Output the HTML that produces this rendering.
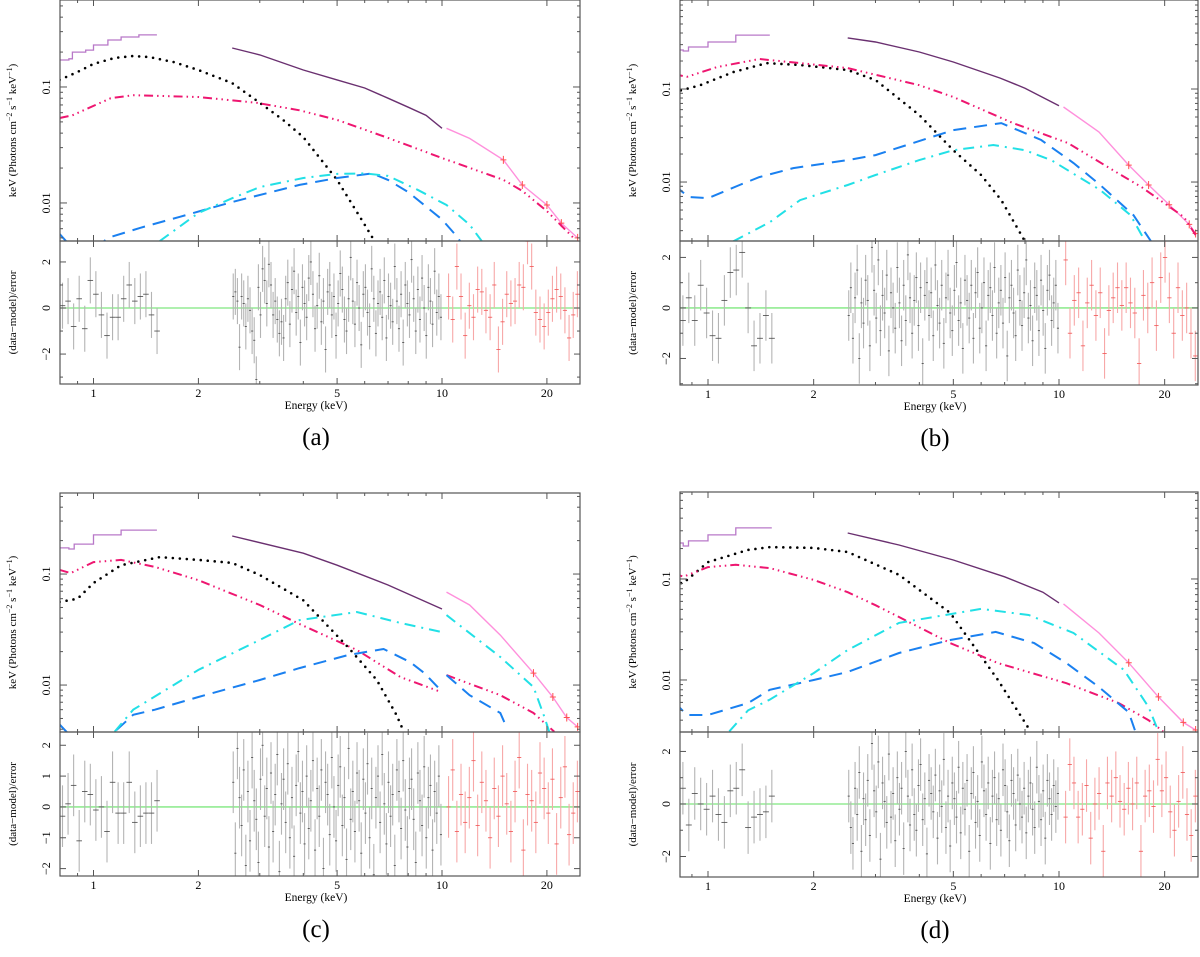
<!DOCTYPE html>
<html><head><meta charset="utf-8">
<style>
html,body{margin:0;padding:0;background:#fff;}
svg, svg text{font-family:"Liberation Serif","Times New Roman",serif;}
</style></head>
<body>
<svg id="fig" width="1200" height="952" viewBox="0 0 1200 952" xmlns="http://www.w3.org/2000/svg" font-family="Liberation Serif, serif"></svg>
<script>
// ===== data: panel (a) =====
const aPurpleSoft=[[0.8,0.171],[0.85,0.175],[0.87,0.2],[0.95,0.208],[1.0,0.23],[1.1,0.254],[1.2,0.27],[1.35,0.281],[1.52,0.281]];
const aPurpleMid=[[2.5,0.217],[3,0.189],[4,0.14],[5,0.115],[6,0.098],[7,0.08],[8,0.067],[9,0.057],[10,0.044]];
const aHard=[[10.3,0.044],[12,0.036],[15,0.0235],[17,0.0143],[20,0.0096],[22,0.0067],[24.5,0.005]];
const aBlack=[[0.8,0.115],[0.9,0.135],[1.0,0.158],[1.15,0.178],[1.3,0.185],[1.45,0.181],[1.7,0.164],[2,0.14],[2.5,0.108],[3,0.073],[3.5,0.052],[4,0.037],[5,0.0158],[6,0.0065],[6.4,0.0047]];
const aPink=[[0.8,0.054],[0.87,0.057],[1.12,0.08],[1.3,0.085],[2,0.082],[2.94,0.073],[3.9,0.063],[5,0.052],[7,0.0364],[10,0.0244],[15,0.0158],[17,0.0127],[20,0.0085],[24,0.0049]];
const aBlue=[[0.8,0.0054],[0.85,0.0044],[1.0,0.0039],[1.1,0.005],[1.36,0.0061],[1.77,0.0076],[2.5,0.0102],[3.9,0.0143],[5,0.0164],[6.3,0.018],[7,0.0158],[8,0.0124],[9,0.0093],[10,0.0072],[11,0.0052],[11.5,0.0043]];
const aCyan=[[1.55,0.0047],[2,0.0082],[2.5,0.011],[3,0.0137],[4,0.0164],[5,0.0178],[6,0.018],[7,0.0171],[8.5,0.013],[10.3,0.0096],[12,0.0065],[13,0.0047]];
const aResSoft=[0.1,0.3,-0.8,0.4,-0.9,1.2,0.6,-0.3,-1.2,-0.4,-0.4,0.4,1.0,0.3,0.5,0.6,-0.3,-1.0];
const aResMid=[0.5,0.7,0.3,-1.7,0.5,0.2,-0.8,0.4,-0.1,-1.0,-1.4,-3.1,0.9,-0.3,1.7,1.2,0.2,1.9,1.0,-0.3,0.3,-0.5,-1.1,-0.6,-1.3,0.4,1.1,-0.7,0.8,1.6,-0.2,0.5,-1.5,0.9,0.2,-0.4,1.3,2.0,0.6,-0.9,0.1,1.4,-0.6,0.3,-1.8,0.7,1.0,-0.3,0.5,-1.2,0.2,1.5,0.8,-0.5,-1.0,0.4,2.2,0.3,-0.7,1.1,0.0,-1.6,0.6,0.9,-0.2,-0.8,1.7,0.4,-1.1,0.2,0.7,-0.4,1.2,-1.3,0.5,0.1,-0.6,1.8,0.3,-0.9,0.6,-1.5,1.0,0.2,-0.3,2.1,0.4,-1.0,0.8,-0.5,1.3,0.0,-1.2,0.9,0.3,-0.7,1.6,-0.2,0.5,-0.4];
const aResHard=[0.5,-0.5,1.8,0.5,-1.2,0.1,-0.4,0.8,0.7,-0.1,-0.4,1.0,-1.8,-0.6,0.6,0.2,0.3,1.0,0.9,2.9,1.8,-0.2,-0.5,-0.8,-0.2,0.4,0.8,0.5,-0.1,-1.3,-0.3,0.6];
// ===== data: panel (b) =====
const bPurpleSoft=[[0.8,0.263],[0.85,0.256],[0.88,0.283],[1.0,0.32],[1.2,0.38],[1.5,0.44]];
const bPurpleMid=[[2.5,0.354],[3,0.32],[4,0.25],[5,0.195],[6.8,0.131],[8,0.102],[10,0.066]];
const bHard=[[10.3,0.064],[13,0.0345],[15.8,0.0152],[18,0.0093],[20.6,0.0057],[23.5,0.0035],[24.5,0.0028]];
const bBlack=[[0.8,0.093],[0.85,0.098],[0.95,0.11],[1.18,0.152],[1.47,0.19],[1.83,0.181],[2.5,0.16],[3,0.125],[4,0.0526],[5,0.022],[6,0.0119],[6.85,0.0064],[8,0.0023]];
const bPink=[[0.8,0.145],[0.87,0.135],[1.06,0.172],[1.4,0.21],[1.83,0.19],[2.5,0.168],[4,0.11],[5,0.082],[7.4,0.043],[10.6,0.0263],[14.7,0.0125],[17.2,0.0088],[22.7,0.0042],[24.5,0.0027]];
const bBlue=[[0.8,0.0093],[0.88,0.0069],[1.0,0.0067],[1.23,0.0093],[1.4,0.0113],[1.75,0.0141],[2.5,0.0172],[3,0.0195],[5,0.0362],[6.85,0.043],[8.9,0.0283],[11,0.016],[13.1,0.0093],[16.3,0.0044],[18.3,0.0023]];
const bCyan=[[1.18,0.0023],[1.5,0.0037],[1.83,0.0064],[2.5,0.0093],[3,0.0119],[4,0.0172],[5,0.022],[6.5,0.025],[8,0.022],[9.5,0.0172],[13.1,0.0082],[16,0.0044],[17.6,0.0023]];
const bResSoft=[0.3,-0.5,0.4,-0.5,0.9,-0.2,-1.1,-1.2,0.3,1.4,1.5,2.2,0.0,-1.5,-1.2,-0.3,-1.2];
const bResMid=[-0.3,0.8,-1.2,0.4,1.5,-2.0,0.2,-0.6,1.1,0.3,-1.5,2.4,0.7,-0.4,1.9,-0.9,0.5,-0.2,1.3,-1.7,0.6,0.0,-0.8,1.6,0.2,-1.3,0.9,-0.5,2.1,0.4,-1.0,0.3,1.2,-0.7,0.8,-2.2,0.5,1.0,-0.3,0.6,-1.1,1.7,0.1,-0.6,0.9,-1.4,0.4,1.3,-0.2,-0.9,0.7,1.8,-0.5,0.2,-1.6,1.1,0.3,-0.4,0.9,-1.2,0.6,1.4,-0.8,0.0,1.0,-1.5,0.5,0.8,-0.3,1.6,-1.0,0.2,0.7,-0.6,1.2,-1.9,0.4,0.9,-0.2,-1.1,1.5,0.3,-0.7,0.6,1.9,-0.4,0.1,-1.3,0.8,0.5,-0.9,1.1,-0.1,-1.6,0.7,1.3,-0.5,0.2,0.9,-0.8];
const bResHard=[1.9,-1.0,0.3,0.6,-1.5,0.2,0.9,-0.3,0.6,-1.8,-0.1,0.4,0.8,0.1,0.8,0.2,-0.2,-2.2,0.5,0.0,1.0,-0.7,1.2,2.0,0.4,-1.0,0.8,-0.3,0.0,-1.0,-1.9];
// ===== data: panel (c) =====
const cPurpleSoft=[[0.8,0.172],[0.85,0.168],[0.88,0.186],[1.0,0.225],[1.2,0.249],[1.52,0.276]];
const cPurpleMid=[[2.5,0.22],[4,0.154],[5,0.12],[7,0.0796],[10,0.0484]];
const cHard=[[10.3,0.0688],[12,0.0526],[14.7,0.0282],[18.3,0.0128],[20.8,0.0078],[22.8,0.0051],[24.5,0.0042]];
const cBlack=[[0.8,0.056],[0.9,0.06],[1.0,0.083],[1.2,0.12],[1.55,0.142],[2,0.134],[2.5,0.126],[3,0.098],[4,0.058],[5.4,0.0216],[6.5,0.0111],[7.4,0.0054],[7.8,0.0037]];
const cPink1=[[0.8,0.109],[0.86,0.102],[1.0,0.128],[1.2,0.134],[1.5,0.116],[2,0.088],[3,0.0526],[3.9,0.0355],[5.7,0.0207],[7.6,0.0118],[9.9,0.0087]];
const cPink2=[[10.3,0.0123],[14.7,0.0081],[18.3,0.0056],[21,0.0038]];
const cBlue1=[[0.8,0.0044],[0.85,0.0036],[1.0,0.0033],[1.15,0.0038],[1.3,0.0054],[1.5,0.006],[2,0.0078],[3,0.0111],[3.9,0.0142],[5.4,0.0187],[6.8,0.0211],[8.1,0.0161],[8.9,0.0128],[9.9,0.009]];
const cBlue2=[[10.3,0.0123],[12,0.0081],[14.7,0.0056],[15.3,0.0042]];
const cCyan1=[[1.15,0.0038],[1.3,0.006],[2,0.0137],[3,0.0255],[3.9,0.0385],[5.7,0.0455],[7.6,0.0362],[10,0.03]];
const cCyan2=[[10.3,0.0427],[14.7,0.0179],[18.3,0.0096],[19.7,0.0051],[20.3,0.0038]];
const cResSoft=[-0.3,0.1,0.7,-1.1,0.5,0.4,-0.1,0.0,-0.8,0.8,-0.2,-0.2,0.8,-0.5,-0.3,-0.2,-0.2,0.2];
const cResMid=[0.8,-1.5,1.9,0.3,-0.6,1.2,-1.9,0.5,-1.1,1.6,0.2,-0.4,-1.8,0.9,2.0,-0.3,0.6,-1.3,1.1,-0.8,0.4,1.7,-2.1,0.1,0.9,-0.5,1.4,-1.0,0.3,-1.6,0.7,1.8,-0.2,0.5,-1.2,1.0,-0.7,0.2,1.5,-1.4,0.6,-0.3,1.2,-2.0,0.8,0.4,-0.9,1.6,0.0,-1.1,0.7,1.3,-0.6,0.3,-1.7,1.9,-0.4,0.5,-0.8,1.1,0.2,-1.5,0.9,-0.2,1.4,-1.0,0.6,-2.2,0.3,1.0,-0.5,1.7,0.1,-1.2,0.8,-0.3,0.4,-1.9,1.2,0.5,-0.7,1.5,-0.1,-1.3,0.6,0.9,-0.4,-1.8,1.1,0.2,-0.6,1.3,-1.0,0.3,0.7,-1.4,0.5,-0.2,1.0,-0.9];
const cResHard=[0.0,1.2,-0.8,0.4,-0.5,0.3,1.5,-0.6,0.8,0.2,-1.0,0.6,-0.3,1.0,0.1,-0.8,0.5,1.6,-1.4,0.4,0.2,-0.5,1.1,0.6,-0.2,0.9,-1.2,0.3,1.3,-0.9,-0.2,0.5];
// ===== data: panel (d) =====
const dPurpleSoft=[[0.8,0.227],[0.85,0.212],[0.88,0.238],[1.0,0.273],[1.2,0.32],[1.52,0.359]];
const dPurpleMid=[[2.5,0.285],[3.5,0.217],[5,0.154],[7,0.105],[9,0.074],[10,0.058]];
const dHard=[[10.3,0.0566],[13,0.0292],[15.8,0.0148],[19.2,0.0068],[22.6,0.0038],[24.5,0.0032]];
const dBlack=[[0.8,0.091],[0.85,0.091],[1.0,0.147],[1.3,0.194],[1.5,0.207],[2,0.203],[2.5,0.185],[3.5,0.11],[4.9,0.046],[6.7,0.01],[8.3,0.0031]];
const dPink=[[0.8,0.115],[0.85,0.105],[1.0,0.131],[1.2,0.138],[1.5,0.128],[2,0.098],[2.5,0.074],[3,0.055],[3.5,0.042],[4.9,0.0232],[6.7,0.0147],[10.5,0.0093],[14.8,0.0059],[18,0.004],[19.8,0.0031]];
const dBlue=[[0.8,0.0061],[0.87,0.0045],[1.0,0.0045],[1.3,0.0059],[1.5,0.008],[2,0.01],[2.5,0.012],[3.5,0.0185],[4.9,0.0249],[6.6,0.0299],[8.5,0.0232],[10.5,0.0147],[13,0.0085],[15.8,0.0048],[16.5,0.0031]];
const dCyan=[[1.15,0.0031],[1.3,0.005],[1.5,0.0064],[2,0.0117],[2.5,0.0198],[3.5,0.0367],[6,0.0505],[8.2,0.044],[11,0.0292],[15.3,0.0126],[18,0.0054],[19.2,0.0031]];
const dResSoft=[-0.2,0.6,-0.8,0.4,0.0,-0.2,0.3,-0.4,-0.7,0.5,0.6,1.3,-0.9,-0.5,-0.4,-0.3,0.3];
const dResMid=[0.3,-0.9,-1.5,0.6,-0.4,1.2,-1.8,0.2,-0.6,0.9,-1.2,2.3,0.5,-0.3,1.6,-2.1,0.8,0.1,-0.7,1.9,-0.5,0.4,-1.4,1.0,-0.2,0.6,-1.7,2.0,0.3,-0.8,1.3,-0.4,-1.0,0.7,1.5,-0.6,0.2,-1.9,0.9,0.4,-0.3,1.1,-1.3,0.5,-0.1,1.7,-0.9,0.3,-1.6,0.8,0.2,-0.5,1.4,-1.1,0.6,-0.2,0.9,-1.8,0.4,1.2,-0.7,0.1,-1.2,1.6,0.5,-0.4,0.8,-1.5,0.3,1.0,-0.6,0.2,-1.0,1.3,0.7,-0.3,-1.4,0.9,0.4,-0.8,1.1,0.0,-0.5,0.6,-1.1,0.3,0.8,-0.2,-0.9,1.4,0.1,-0.6,0.5,-1.3,0.9,0.2,-0.4,0.7,-0.1,0.4];
const dResHard=[-0.5,1.5,0.8,-0.5,-0.2,0.7,-1.3,0.0,0.4,-1.8,0.8,0.3,1.0,0.1,-0.2,0.6,0.0,0.8,-1.8,0.3,0.5,-0.1,1.7,0.5,1.0,-0.3,-1.0,0.1,1.2,-0.4,-1.2,0.3];
</script>
<script>
const NS='http://www.w3.org/2000/svg';
const svg=document.getElementById('fig');
const FONT='Liberation Serif, serif';
function mk(tag,attrs,parent){const e=document.createElementNS(NS,tag);for(const k in attrs)e.setAttribute(k,attrs[k]);(parent||svg).appendChild(e);return e;}
const L10=Math.log10;

const panels=[
 {id:'a',label:'(a)',x0:60,x1:580,top:0,mid:241,bot:384,e1x:93.5,dec:348.5,uLo:-2.328,uHi:-0.25,rLo:-3.3,rHi:2.91,rTicks:[-2,0,2],
  purpleSoft:aPurpleSoft,purpleMid:aPurpleMid,hard:aHard,black:[aBlack],pink:[aPink],blue:[aBlue],cyan:[aCyan],resSoft:aResSoft,resMid:aResMid,resHard:aResHard},
 {id:'b',label:'(b)',x0:680,x1:1198,top:0,mid:241,bot:385,e1x:708,dec:351,uLo:-2.634,uHi:-0.043,rLo:-3.05,rHi:2.65,rTicks:[-2,0,2],
  purpleSoft:bPurpleSoft,purpleMid:bPurpleMid,hard:bHard,black:[bBlack],pink:[bPink],blue:[bBlue],cyan:[bCyan],resSoft:bResSoft,resMid:bResMid,resHard:bResHard},
 {id:'c',label:'(c)',x0:60,x1:580,top:493,mid:732,bot:876,e1x:93.5,dec:348.5,uLo:-2.423,uHi:-0.27,rLo:-2.24,rHi:2.43,rTicks:[-2,-1,0,1,2],
  purpleSoft:cPurpleSoft,purpleMid:cPurpleMid,hard:cHard,black:[cBlack],pink:[cPink1,cPink2],blue:[cBlue1,cBlue2],cyan:[cCyan1,cCyan2],resSoft:cResSoft,resMid:cResMid,resHard:cResHard},
 {id:'d',label:'(d)',x0:680,x1:1198,top:492,mid:732,bot:877,e1x:708,dec:351,uLo:-2.515,uHi:-0.139,rLo:-2.78,rHi:2.74,rTicks:[-2,0,2],
  purpleSoft:dPurpleSoft,purpleMid:dPurpleMid,hard:dHard,black:[dBlack],pink:[dPink],blue:[dBlue],cyan:[dCyan],resSoft:dResSoft,resMid:dResMid,resHard:dResHard}
];

panels.forEach(p=>{
  const g=mk('g',{});
  
  
  const X=E=>p.e1x+p.dec*L10(E);
  const Yu=v=>p.top+(p.uHi-L10(v))/(p.uHi-p.uLo)*(p.mid-p.top);
  const Yr=r=>p.mid+(p.rHi-r)/(p.rHi-p.rLo)*(p.bot-p.mid);
  const cu='cu'+p.id, cr='cr'+p.id;
  const defs=mk('defs',{},g);
  const c1=mk('clipPath',{id:cu},defs);mk('rect',{x:p.x0,y:p.top,width:p.x1-p.x0,height:p.mid-p.top},c1);
  const c2=mk('clipPath',{id:cr},defs);mk('rect',{x:p.x0,y:p.mid,width:p.x1-p.x0,height:p.bot-p.mid},c2);
  const gu=mk('g',{'clip-path':'url(#'+cu+')'},g);
  
  
  const gr=mk('g',{'clip-path':'url(#'+cr+')'},g);
  
  
  const pts=arr=>arr.map(d=>X(d[0]).toFixed(1)+','+Yu(d[1]).toFixed(1)).join(' ');

  // residuals
  const zl=mk('line',{x1:p.x0,x2:p.x1,y1:Yr(0),y2:Yr(0),stroke:'#7fe87f','stroke-width':1.3},gr);
  
  
  function resid(vals,eLo,eHi,col,tick,name){
    const n=vals.length, w=(L10(eHi)-L10(eLo))/n;
    vals.forEach((r,i)=>{
      const a=Math.pow(10,L10(eLo)+i*w), b=Math.pow(10,L10(eLo)+(i+1)*w), m=Math.sqrt(a*b);
      const gg=mk('g',{stroke:col,'stroke-width':1.1},gr);
      
      
      mk('line',{x1:X(m),x2:X(m),y1:Yr(r-1),y2:Yr(r+1)},gg);
      mk('line',{x1:X(a),x2:X(b),y1:Yr(r),y2:Yr(r),stroke:tick,'stroke-width':0.8},gg);
    });
  }
  resid(p.resSoft,0.8,1.55,'#b4b4b4','#444','residual-soft');
  resid(p.resMid,2.5,10,'#b4b4b4','#444','residual-mid');
  resid(p.resHard,10.3,24.8,'#f7a8a8','#f05050','residual-hard');

  // data spectra
  function steps(arr,col,name){
    let d='';
    for(let i=0;i<arr.length-1;i++){
      const x1=X(arr[i][0]),x2=X(arr[i+1][0]),y=Yu(arr[i][1]);
      d+=(i?'L':'M')+x1.toFixed(1)+','+y.toFixed(1)+'L'+x2.toFixed(1)+','+y.toFixed(1);
    }
    const e=mk('path',{d:d,fill:'none',stroke:col,'stroke-width':1.3},gu);
    
    
  }
  steps(p.purpleSoft,'#b878c8','data-soft-'+p.id);
  const pm=mk('polyline',{points:pts(p.purpleMid),fill:'none',stroke:'#6a3070','stroke-width':1.4},gu);
  
  
  const hp=mk('polyline',{points:pts(p.hard),fill:'none',stroke:'#ff90dc','stroke-width':1.4},gu);
  
  
  p.hard.forEach(d=>{
    if(d[0]<15)return;
    const x=X(d[0]),y=Yu(d[1]);
    const c=mk('path',{d:`M${x-3},${y}H${x+3}M${x},${y-4}V${y+4}`,stroke:'#ff5050','stroke-width':1},gu);
    
    
  });
  // models
  function model(list,col,dash,w,cap,name){
    list.forEach(arr=>{
      const e=mk('polyline',{points:pts(arr),fill:'none',stroke:col,'stroke-width':w,'stroke-dasharray':dash,'stroke-linecap':cap},gu);
      
      
    });
  }
  model(p.black,'#000','0 7',2.6,'round','model-black-dotted');
  model(p.pink,'#ee1670','9 4 1.5 4 1.5 4 1.5 4',2,'butt','model-pink-dashdot');
  model(p.blue,'#1a80f0','13 8',2,'butt','model-blue-dashed');
  model(p.cyan,'#22e0e6','11 6 2 6',2,'butt','model-cyan-dashdot');

  // frames
  [[p.top,p.mid],[p.mid,p.bot]].forEach(([t,b],k)=>{
    const r=mk('rect',{x:p.x0,y:t,width:p.x1-p.x0,height:b-t,fill:'none',stroke:'#555','stroke-width':1.2},g);
    
    
  });
  // x ticks
  const xt=[0.8,0.9,1,2,3,4,5,6,7,8,9,10,20];
  xt.forEach(E=>{
    const x=X(E); if(x<p.x0||x>p.x1)return;
    const major=[1,2,5,10,20].includes(E), len=major?6:3;
    [[p.top,1],[p.mid,-1],[p.mid,1],[p.bot,-1]].forEach(([y,s])=>mk('line',{x1:x,x2:x,y1:y,y2:y+s*len,stroke:'#555','stroke-width':1},g));
    if(major){
      const t=mk('text',{x:x,y:p.bot+13,'font-size':12,'font-family':FONT,'text-anchor':'middle',fill:'#000'},g);
      t.textContent=String(E);
      
      
    }
  });
  // y ticks upper
  for(let k=-3;k<=0;k++)for(let m=1;m<=9;m++){
    const v=m*Math.pow(10,k), y=Yu(v); if(y<p.top||y>p.mid)continue;
    const len=m===1?7:3;
    mk('line',{x1:p.x0,x2:p.x0+len,y1:y,y2:y,stroke:'#555','stroke-width':1},g);
    mk('line',{x1:p.x1,x2:p.x1-len,y1:y,y2:y,stroke:'#555','stroke-width':1},g);
    if(m===1){
      const t=mk('text',{x:p.x0-10,y:y,'font-size':12,'font-family':FONT,'text-anchor':'middle',transform:`rotate(-90 ${p.x0-10} ${y})`,fill:'#000'},g);
      t.textContent=k===-1?'0.1':'0.01';
      
      
    }
  }
  // y ticks residual
  for(let r=-3;r<=3;r++){
    const y=Yr(r); if(y<p.mid||y>p.bot)continue;
    const lab=p.rTicks.includes(r), len=lab?6:3;
    mk('line',{x1:p.x0,x2:p.x0+len,y1:y,y2:y,stroke:'#555','stroke-width':1},g);
    mk('line',{x1:p.x1,x2:p.x1-len,y1:y,y2:y,stroke:'#555','stroke-width':1},g);
    if(lab){
      const t=mk('text',{x:p.x0-10,y:y,'font-size':12,'font-family':FONT,'text-anchor':'middle',transform:`rotate(-90 ${p.x0-10} ${y})`,fill:'#000'},g);
      t.textContent=r<0?'\u2212'+(-r):String(r);
      
      
    }
  }
  // titles
  const tx=p.x0-44, ty=(p.top+p.mid)/2+10;
  const yt=mk('text',{x:tx,y:ty,'font-size':11,'font-family':FONT,'text-anchor':'middle',transform:`rotate(-90 ${tx} ${ty})`,fill:'#000'},g);
  yt.innerHTML='keV (Photons cm<tspan dy="-4" font-size="8">\u22122</tspan><tspan dy="4"> s</tspan><tspan dy="-4" font-size="8">\u22121</tspan><tspan dy="4"> keV</tspan><tspan dy="-4" font-size="8">\u22121</tspan><tspan dy="4">)</tspan>';
  
  
  const ry=(p.mid+p.bot)/2;
  const rt=mk('text',{x:tx,y:ry,'font-size':11,'font-family':FONT,'text-anchor':'middle',transform:`rotate(-90 ${tx} ${ry})`,fill:'#000'},g);
  rt.textContent='(data\u2212model)/error';
  
  
  const cx=(p.x0+p.x1)/2-4;
  const xtt=mk('text',{x:cx,y:p.bot+25,'font-size':11.5,'font-family':FONT,'text-anchor':'middle',fill:'#000'},g);
  xtt.textContent='Energy (keV)';
  
  
  const pl=mk('text',{x:cx,y:p.bot+61,'font-size':25,'font-family':FONT,'text-anchor':'middle',fill:'#000'},g);
  pl.textContent=p.label;
  
  
});
</script>
</body></html>
